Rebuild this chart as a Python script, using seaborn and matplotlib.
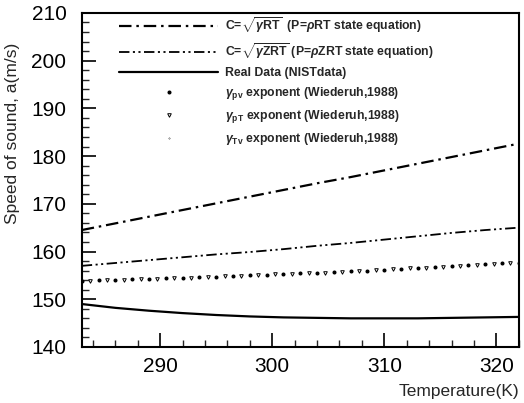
import matplotlib
matplotlib.use("Agg")
import matplotlib.pyplot as plt
from matplotlib.ticker import MultipleLocator
import seaborn as sns

# Temperatures (K) for the continuous curves
temp_line = [283, 286, 289, 292, 295, 298, 301, 304, 307, 310, 313, 316, 319, 322]
# C = sqrt(gamma R T), ideal-gas state equation
c_ideal = [164.5, 165.9, 167.3, 168.7, 170.1, 171.5, 172.9, 174.3, 175.6, 177.0,
           178.4, 179.8, 181.2, 182.6]
# C = sqrt(gamma Z R T), real-gas state equation
c_zrt = [157.0, 157.6, 158.2, 158.8, 159.4, 159.9, 160.5, 161.2, 161.8, 162.5,
         163.2, 163.9, 164.5, 165.0]
# NIST reference data
c_nist = [149.0, 148.2, 147.6, 147.1, 146.7, 146.4, 146.2, 146.1, 146.0, 146.0,
          146.0, 146.1, 146.2, 146.3]

# gamma_pv exponent
temp_pv = [283.0, 284.5, 286.0, 287.5, 289.0, 290.5, 292.0, 293.5, 295.0, 296.5,
           298.0, 299.5, 301.0, 302.5, 304.0, 305.5, 307.0, 308.5, 310.0, 311.5,
           313.0, 314.5, 316.0, 317.5, 319.0, 320.5, 322.0]
c_pv = [153.9, 154.0, 154.1, 154.2, 154.3, 154.4, 154.5, 154.6, 154.7, 154.9,
        155.0, 155.1, 155.3, 155.4, 155.5, 155.7, 155.9, 156.0, 156.2, 156.4,
        156.5, 156.7, 156.9, 157.1, 157.3, 157.5, 157.7]
# gamma_pT exponent
temp_pt = [283.75, 285.25, 286.75, 288.25, 289.75, 291.25, 292.75, 294.25, 295.75,
           297.25, 298.75, 300.25, 301.75, 303.25, 304.75, 306.25, 307.75, 309.25,
           310.75, 312.25, 313.75, 315.25, 316.75, 318.25, 319.75, 321.25]
c_pt = [153.9, 154.0, 154.1, 154.2, 154.3, 154.4, 154.5, 154.7, 154.8, 154.9,
        155.0, 155.2, 155.3, 155.5, 155.6, 155.8, 156.0, 156.1, 156.3, 156.5,
        156.6, 156.8, 157.0, 157.2, 157.4, 157.6]
# gamma_Tv exponent
c_tv = [153.9, 154.1, 154.3, 154.5, 154.7, 155.0, 155.3, 155.6, 155.9, 156.2,
        156.6, 156.9, 157.3, 157.7]

labels = [
    r"C=$\sqrt{\gamma \mathrm{RT}}$  (P=$\rho$RT state equation)",
    r"C=$\sqrt{\gamma \mathrm{ZRT}}$ (P=$\rho$ZRT state equation)",
    "Real Data (NISTdata)",
    r"$\gamma_{\mathrm{pv}}$ exponent (Wiederuh,1988)",
    r"$\gamma_{\mathrm{pT}}$ exponent (Wiederuh,1988)",
    r"$\gamma_{\mathrm{Tv}}$ exponent (Wiederuh,1988)",
]

sns.set_theme(style="ticks")
plt.rcParams["font.family"] = ["Liberation Sans", "DejaVu Sans"]
plt.rcParams["lines.scale_dashes"] = False
plt.rcParams["mathtext.fontset"] = "custom"
plt.rcParams["mathtext.rm"] = "Liberation Sans:bold"
plt.rcParams["mathtext.it"] = "Liberation Sans:italic:bold"
plt.rcParams["mathtext.bf"] = "Liberation Sans:bold"

fig = plt.figure(figsize=(5.24, 4.03), dpi=100)
ax = fig.add_axes([0.156, 0.139, 0.834, 0.829])

sns.lineplot(x=temp_line, y=c_ideal, ax=ax, color="black", lw=1.6,
             linestyle=(0, (9, 3.5, 1.8, 3.5)), label=labels[0])
sns.lineplot(x=temp_line, y=c_zrt, ax=ax, color="black", lw=1.3,
             linestyle=(0, (7.5, 2.5, 1.5, 2.5, 1.5, 2.5)), label=labels[1])
sns.lineplot(x=temp_line, y=c_nist, ax=ax, color="black", lw=1.6,
             linestyle="-", label=labels[2])
ax.plot(temp_pv, c_pv, linestyle="none", marker="o", markersize=1.9,
        color="black", label=labels[3])
ax.plot(temp_pt, c_pt, linestyle="none", marker="v", markersize=2.6,
        markerfacecolor="white", markeredgecolor="black", markeredgewidth=0.7,
        label=labels[4])
ax.plot(temp_line, c_tv, linestyle="none", marker=".", markersize=0.5,
        color="black", label=labels[5])

ax.set_xlim(283, 322)
ax.set_ylim(140, 210)
ax.xaxis.set_major_locator(MultipleLocator(10))
ax.xaxis.set_minor_locator(MultipleLocator(2))
ax.yaxis.set_major_locator(MultipleLocator(10))
ax.yaxis.set_minor_locator(MultipleLocator(2))

ax.tick_params(which="major", direction="in", length=10, width=1.2,
               labelsize=15, colors="black")
ax.tick_params(which="minor", direction="in", length=5, width=1.0)
ax.tick_params(axis="y", which="major", pad=11)
ax.tick_params(axis="x", which="major", pad=7)
for sp in ax.spines.values():
    sp.set_visible(True)
    sp.set_linewidth(1.5)
    sp.set_color("black")

ax.set_xlabel("Temperature(K)", fontsize=12.5, loc="right", labelpad=6)
ax.set_ylabel("Speed of sound, a(m/s)", fontsize=12.5)
ax.yaxis.set_label_coords(-0.142, 0.64)

leg = ax.legend(loc="upper left", bbox_to_anchor=(0.075, 1.008), frameon=False,
                handlelength=8.1, handletextpad=0.55, labelspacing=0.5,
                borderaxespad=0, numpoints=1,
                prop={"family": ["Liberation Sans"],
                      "weight": "bold", "size": 8.8})

fig.savefig("out.png", dpi=100, facecolor="white")
